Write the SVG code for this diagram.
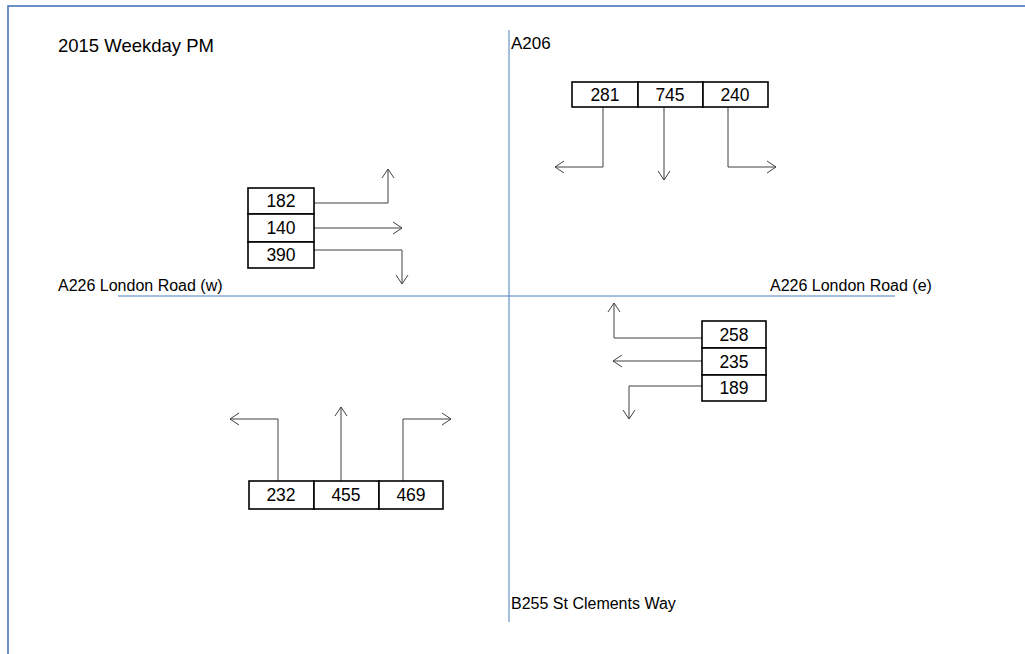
<svg xmlns="http://www.w3.org/2000/svg" width="1025" height="654" viewBox="0 0 1025 654">
<style>
.road{stroke:#4a7ebb;stroke-width:1;fill:none}
.frame{stroke:#3c6eb4;stroke-width:1.5;fill:none}
.cell{fill:#fff;stroke:#000;stroke-width:1.6}
.num{font-family:"Liberation Sans",Arial,sans-serif;font-size:17.5px;fill:#000;text-anchor:middle}
.lbl{font-family:"Liberation Sans",Arial,sans-serif;font-size:16px;fill:#000}
.arr{stroke:#404040;stroke-width:1;fill:none;marker-end:url(#ah)}
</style>
<defs>
<marker id="ah" markerUnits="userSpaceOnUse" markerWidth="20" markerHeight="20" refX="10" refY="10" orient="auto">
<path d="M1,4 L10,10 L1,16" fill="none" stroke="#404040" stroke-width="1"/>
</marker>
</defs>
<rect width="1025" height="654" fill="#fff"/>
<path class="frame" d="M8,654 V6 H1025"/>
<g id="roads">
<line class="road" x1="509" y1="30" x2="509" y2="622"/>
<line class="road" x1="118" y1="296" x2="895" y2="296"/>
</g>
<g id="labels">
<text class="lbl" x="58" y="52" style="font-size:18.5px">2015 Weekday PM</text>
<text class="lbl" x="511" y="49" style="font-size:17px">A206</text>
<text class="lbl" x="58" y="291">A226 London Road (w)</text>
<text class="lbl" x="770" y="291">A226 London Road (e)</text>
<text class="lbl" x="511" y="609">B255 St Clements Way</text>
</g>
<g id="connectors">
<path class="arr" d="M603,107 V167 H555"/>
<path class="arr" d="M664,107 V180"/>
<path class="arr" d="M728,107 V167 H776"/>
<path class="arr" d="M314,203 H388 V169"/>
<path class="arr" d="M314,228 H402"/>
<path class="arr" d="M314,250 H402 V284"/>
<path class="arr" d="M702,338 H614 V303"/>
<path class="arr" d="M702,361 H613"/>
<path class="arr" d="M702,386 H629 V419"/>
<path class="arr" d="M278,481 V419 H230"/>
<path class="arr" d="M341,481 V407"/>
<path class="arr" d="M403,481 V419 H451"/>
</g>
<g id="north">
<rect class="cell" x="572" y="82" width="66" height="25"/>
<rect class="cell" x="638" y="82" width="65" height="25"/>
<rect class="cell" x="703" y="82" width="65" height="25"/>
<text class="num" x="605" y="101">281</text>
<text class="num" x="670" y="101">745</text>
<text class="num" x="735" y="101">240</text>
</g>
<g id="west">
<rect class="cell" x="248" y="188" width="66" height="26"/>
<rect class="cell" x="248" y="214" width="66" height="28"/>
<rect class="cell" x="248" y="242" width="66" height="26"/>
<text class="num" x="281" y="207">182</text>
<text class="num" x="281" y="234">140</text>
<text class="num" x="281" y="261">390</text>
</g>
<g id="east">
<rect class="cell" x="702" y="321" width="64" height="27"/>
<rect class="cell" x="702" y="348" width="64" height="27"/>
<rect class="cell" x="702" y="375" width="64" height="26"/>
<text class="num" x="734" y="341">258</text>
<text class="num" x="734" y="368">235</text>
<text class="num" x="734" y="394">189</text>
</g>
<g id="south">
<rect class="cell" x="249" y="481" width="65" height="28"/>
<rect class="cell" x="314" y="481" width="65" height="28"/>
<rect class="cell" x="379" y="481" width="64" height="28"/>
<text class="num" x="281" y="501">232</text>
<text class="num" x="346" y="501">455</text>
<text class="num" x="411" y="501">469</text>
</g>
</svg>
